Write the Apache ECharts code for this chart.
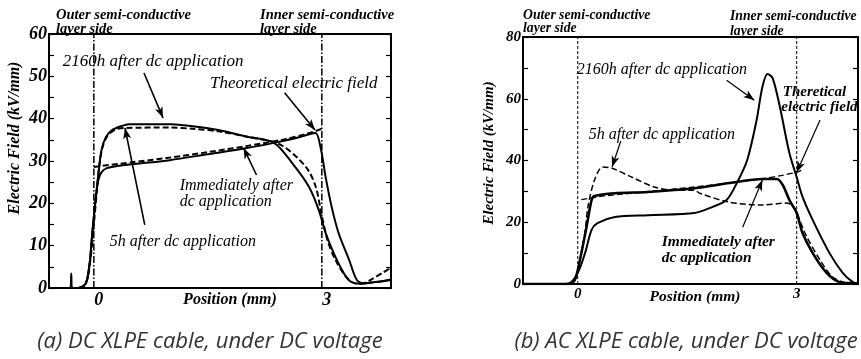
<!DOCTYPE html>
<html><head><meta charset="utf-8">
<script src="https://cdn.jsdelivr.net/npm/echarts@6/dist/echarts.min.js"></script>
<style>html,body{margin:0;padding:0;background:#fff}#c{width:861px;height:359px}</style>
</head><body><div id="c"></div>
<script>
const SERIF = '"Liberation Serif","Times New Roman",serif';
const SANS = '"Open Sans","Noto Sans",sans-serif';

// ---- panel (a): DC XLPE cable ----
const aXTicks = [0, 3];
const aBoundaries = [0, 3];
const a2160h = [[-0.59,0],[-0.31,0],[-0.297,3.4],[-0.288,0],[-0.2,0],[-0.13,0.5],[-0.09,1.9],[-0.05,6.6],[-0.03,11],[0,16.8],[0.03,22],[0.06,27],[0.1,32.5],[0.16,35.7],[0.24,37.3],[0.37,38.3],[0.46,38.7],[1.03,38.7],[1.3,38.2],[1.64,37.3],[2.0,35.8],[2.37,34.3],[2.61,29.5],[2.83,23.9],[2.96,18.4],[3.05,13],[3.18,7.3],[3.32,2.6],[3.39,1.4],[3.5,1.0],[3.65,1.3],[3.8,1.6],[3.91,2.0]];
const a5h = [[-0.2,0],[-0.12,0.8],[-0.08,2.5],[-0.05,6],[-0.02,11],[0.01,17],[0.04,23],[0.07,28.5],[0.11,33],[0.18,36],[0.28,37.4],[0.4,37.8],[1.0,37.9],[1.3,37.6],[1.64,37.0],[2.0,35.8],[2.46,33.8],[2.79,28.6],[2.92,23.9],[3.0,17],[3.08,11],[3.18,6.6],[3.32,2.6],[3.42,1.2],[3.52,1.0],[3.65,2.0],[3.8,3.6],[3.91,4.8]];
const aImmediate = [[-0.2,0],[-0.13,0.5],[-0.09,1.9],[-0.05,6.6],[-0.03,11],[0,16.8],[0.03,22],[0.06,25.5],[0.1,27.3],[0.17,28.3],[0.3,28.8],[0.6,29.4],[1.0,30.2],[1.5,31.6],[2.0,33],[2.4,34.4],[2.7,35.6],[2.85,36.4],[2.92,36.6],[2.99,32.6],[3.05,26.2],[3.13,19.1],[3.22,13],[3.36,6.6],[3.46,1.9],[3.55,1.1],[3.7,1.4],[3.91,1.9]];
const aTheory = [[0,28.6],[0.5,29.7],[1.0,30.8],[1.5,32.1],[2.0,33.5],[2.5,35.1],[2.8,36.4],[3.0,37.6]];

// ---- panel (b): AC XLPE cable ----
const bXTicks = [0, 3];
const bBoundaries = [0, 3];
const b2160h = [[-0.75,0],[-0.2,0],[-0.11,0.3],[0,3.6],[0.1,10],[0.19,17.5],[0.27,19.7],[0.51,21.7],[0.96,22.3],[1.6,23],[1.85,25],[2.04,27.2],[2.18,32.7],[2.32,40],[2.45,53],[2.53,63.8],[2.6,68],[2.67,66.7],[2.77,57.3],[2.9,42.4],[3.0,34.6],[3.08,28.2],[3.22,20.7],[3.45,10],[3.63,3.6],[3.77,0.6],[3.84,0.2]];
const b5h = [[-0.75,0],[-0.12,0],[-0.04,1.3],[0.03,7.8],[0.1,17],[0.14,25],[0.23,33.7],[0.34,37.9],[0.47,37.5],[0.74,34.6],[1.05,31.4],[1.33,30.4],[1.6,30.4],[1.67,29.4],[2.08,26.5],[2.53,25.6],[2.86,26.2],[2.97,24.6],[3.04,20.7],[3.14,15.2],[3.32,7.8],[3.49,2.3],[3.68,0.3],[3.84,0]];
const bImmediate = [[-0.75,0],[-0.12,0],[-0.04,1.3],[0.03,7.8],[0.12,18.4],[0.19,27.2],[0.23,28.5],[0.51,29.4],[0.96,29.8],[1.6,31],[2.08,32.7],[2.53,34],[2.73,34],[2.81,32],[2.9,27.2],[3.0,23],[3.08,16.5],[3.22,10],[3.41,3.6],[3.59,0.6],[3.77,0.3],[3.84,0.2]];
const bTheory = [[0.05,27.3],[0.3,28.3],[0.6,29.1],[1.0,30],[1.5,31.2],[2.0,32.5],[2.5,34],[2.8,35.2],[3.0,36.2],[3.07,36.9]];

// annotations in data coordinates: [grid, x, y, text, fontSize, bold]
const aNotes = [
  [0,-0.41,53.4,'2160h after dc application',17,false],
  [0,1.53,48.4,'Theoretical electric field',17,false],
  [0,1.13,24.1,'Immediately after',16,false],
  [0,1.13,20.3,'dc application',16,false],
  [0,0.21,10.9,'5h after dc application',16,false]
];
const bNotes = [
  [1,-0.014,69.3,'2160h after dc application',16,false],
  [1,0.15,48.2,'5h after dc application',16,false],
  [1,2.81,62.1,'Theretical',15,true],
  [1,2.79,57.3,'electric field',15,true],
  [1,1.15,13.6,'Immediately after',15.5,true],
  [1,1.15,8.4,'dc application',15.5,true]
];
// arrows [x1,y1,x2,y2]
const aArrows = [[0.66,50.8,0.91,40.2],[2.51,46.1,2.91,37.3],[2.14,26.7,1.97,33.1],[0.67,14.9,0.41,37.8]];
const bArrows = [[2.04,66,2.42,59.5],[3.32,53.1,3.0,36.2],[0.59,46.3,0.47,37.9],[2.26,18.4,2.53,33.7]];

function arrowItems(list){
  return list.map(a => [{coord:[a[0],a[1]]},{coord:[a[2],a[3]]}]);
}

const chart = echarts.init(document.getElementById('c'));
const tickLbl = {fontFamily:SERIF, fontStyle:'italic', fontWeight:'bold', color:'#000'};

function xAx(g, min, max, ticks, fs, shift){
  return {gridIndex:g, type:'value', min:min, max:max,
    axisLine:{show:true, onZero:false, lineStyle:{color:'#000', width:2}}, axisTick:{show:false}, splitLine:{show:false},
    axisLabel:Object.assign({customValues:ticks, fontSize:fs, margin:3, padding:[0,0,0,shift]}, tickLbl)};
}
function yAx(g, max, interval, pos, labels, fs){
  return {gridIndex:g, type:'value', min:0, max:max, interval:interval, position:pos,
    axisLine:{show:true, onZero:false, lineStyle:{color:'#000', width:2}},
    axisTick:{show:true, inside:true, length:5, lineStyle:{color:'#000', width:1.2}},
    minorTick:{show:true, splitNumber:2, length:5, lineStyle:{color:'#000', width:1.2}},
    splitLine:{show:false},
    axisLabel:Object.assign({show:labels, fontSize:fs, margin:2}, tickLbl)};
}
function line(name, data, xi, yi, dashed, width){
  return {name:name, type:'line', xAxisIndex:xi, yAxisIndex:yi, data:data, showSymbol:false, smooth:0.3,
    silent:true, animation:false,
    lineStyle:{color:'#000', width:width, type: dashed ? [6,3] : 'solid'}};
}
function boundary(name, bx, xi, yi, ymax, type, width){
  return {name:name, type:'line', xAxisIndex:xi, yAxisIndex:yi, data:[[bx,0],[bx,ymax]], showSymbol:false,
    silent:true, animation:false, lineStyle:{color:'#000', width:width, type:type}};
}
function arrows(name, list, xi, yi, width){
  return {name:name, type:'line', xAxisIndex:xi, yAxisIndex:yi, data:[], silent:true, animation:false,
    markLine:{silent:true, animation:false, label:{show:false}, symbol:['none','arrow'], symbolSize:[6,11],
      lineStyle:{color:'#000', width:width, type:'solid'}, data:arrowItems(list)}};
}

chart.setOption({
  animation:false,
  backgroundColor:'#fff',
  grid:[
    {left:49, top:34, width:342, height:254, show:true, borderColor:'#000', borderWidth:2, backgroundColor:'transparent'},
    {left:523, top:37, width:335, height:247, show:true, borderColor:'#000', borderWidth:2, backgroundColor:'transparent'}
  ],
  xAxis:[xAx(0,-0.59,3.91,aXTicks,18,10), xAx(1,-0.75,3.84,bXTicks,15,0)],
  yAxis:[yAx(0,60,10,'left',true,18), yAx(0,60,10,'right',false,18), yAx(1,80,20,'left',true,15), yAx(1,80,20,'right',false,15)],
  series:[
    boundary('Outer boundary (a)', aBoundaries[0], 0, 0, 60, [7,2,1.5,2], 1.5),
    boundary('Inner boundary (a)', aBoundaries[1], 0, 0, 60, [7,2,1.5,2], 1.5),
    boundary('Outer boundary (b)', bBoundaries[0], 1, 2, 80, [3,2], 1),
    boundary('Inner boundary (b)', bBoundaries[1], 1, 2, 80, [3,2], 1),
    line('2160h after dc application (a)', a2160h, 0, 0, false, 2),
    line('5h after dc application (a)', a5h, 0, 0, true, 2),
    line('Immediately after dc application (a)', aImmediate, 0, 0, false, 2),
    line('Theoretical electric field (a)', aTheory, 0, 0, true, 2),
    line('2160h after dc application (b)', b2160h, 1, 2, false, 2),
    line('5h after dc application (b)', b5h, 1, 2, true, 1.5),
    line('Immediately after dc application (b)', bImmediate, 1, 2, false, 2.6),
    line('Theoretical electric field (b)', bTheory, 1, 2, true, 1.3),
    arrows('arrows (a)', aArrows, 0, 0, 1.6),
    arrows('arrows (b)', bArrows, 1, 2, 1.2)
  ]
});

function txt(x, y, text, size, bold){
  return {type:'text', x:x, y:y, silent:true,
    style:{text:text, fill:'#000', font:'italic ' + (bold?'bold ':'') + size + 'px ' + SERIF, textAlign:'left', textVerticalAlign:'middle'}};
}
const g = [];
aNotes.concat(bNotes).forEach(n => {
  const p = chart.convertToPixel({xAxisIndex:n[0], yAxisIndex:n[0]===0?0:2}, [n[1], n[2]]);
  g.push(txt(p[0], p[1], n[3], n[4], n[5]));
});
// layer labels
g.push(txt(56,15,'Outer semi-conductive',14.5,true));
g.push(txt(56,29,'layer side',14.5,true));
g.push(txt(260,15,'Inner semi-conductive',14.5,true));
g.push(txt(260,29,'layer side',14.5,true));
g.push(txt(523,15,'Outer semi-conductive',13.7,true));
g.push(txt(523,28,'layer side',13.7,true));
g.push(txt(730,16,'Inner semi-conductive',13.7,true));
g.push(txt(730,31,'layer side',13.7,true));
// axis titles
g.push({type:'text', x:15, y:138, rotation:Math.PI/2, silent:true, style:{text:'Electric Field (kV/mm)', fill:'#000', font:'italic bold 16px ' + SERIF, textAlign:'center', textVerticalAlign:'middle'}});
g.push({type:'text', x:489, y:153, rotation:Math.PI/2, silent:true, style:{text:'Electric Field (kV/mm)', fill:'#000', font:'italic bold 15px ' + SERIF, textAlign:'center', textVerticalAlign:'middle'}});
g.push({type:'text', x:230, y:300, silent:true, style:{text:'Position (mm)', fill:'#000', font:'italic bold 16px ' + SERIF, textAlign:'center', textVerticalAlign:'middle'}});
g.push({type:'text', x:695, y:297, silent:true, style:{text:'Position (mm)', fill:'#000', font:'italic bold 15.5px ' + SERIF, textAlign:'center', textVerticalAlign:'middle'}});
// captions
g.push({type:'text', x:210, y:342, silent:true, style:{text:'(a) DC XLPE cable, under DC voltage', fill:'#333', font:'italic 22px ' + SANS, textAlign:'center', textVerticalAlign:'middle'}});
g.push({type:'text', x:686, y:342, silent:true, style:{text:'(b) AC XLPE cable, under DC voltage', fill:'#333', font:'italic 22px ' + SANS, textAlign:'center', textVerticalAlign:'middle'}});
chart.setOption({graphic:g});
</script></body></html>
